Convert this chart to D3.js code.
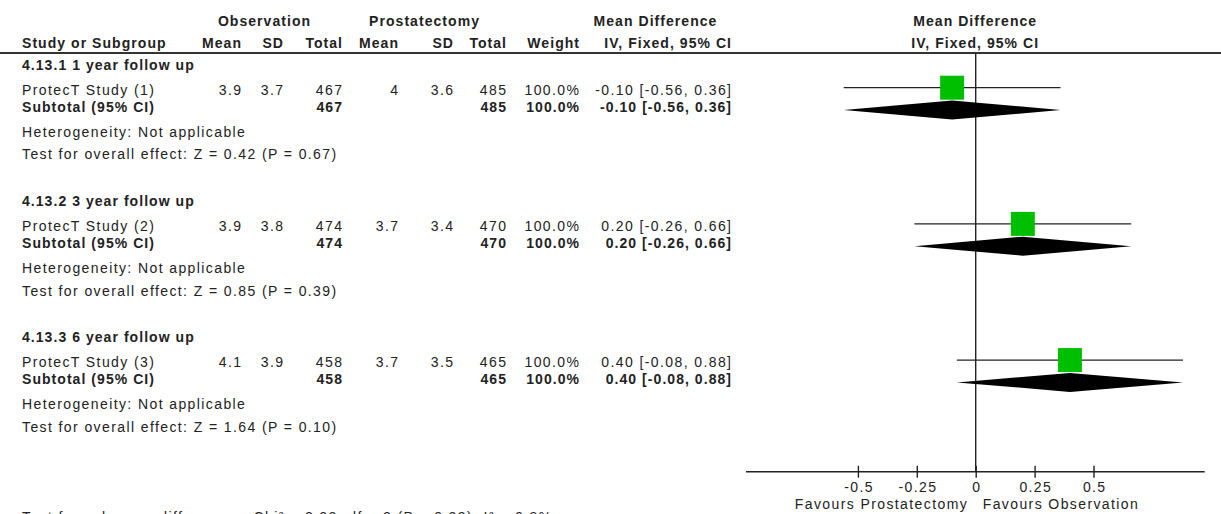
<!DOCTYPE html>
<html>
<head>
<meta charset="utf-8">
<script src="https://cdn.jsdelivr.net/npm/d3@7"></script>
<style>
  html, body { margin: 0; padding: 0; background: #fff; }
  svg { display: block; }
  text { font-family: "Liberation Sans", Arial, sans-serif; font-size: 14px; fill: #222; }
</style>
</head>
<body>
<svg id="chart" width="1221" height="514"></svg>
<script>
// Subgroups and study rows
const groupTitles = ["4.13.1 1 year follow up", "4.13.2 3 year follow up", "4.13.3 6 year follow up"];
const studyNames = ["ProtecT Study (1)", "ProtecT Study (2)", "ProtecT Study (3)"];

// Observation arm
const obsMean = [3.9, 3.9, 4.1];
const obsSD = [3.7, 3.8, 3.9];
const obsTotal = [467, 474, 458];

// Prostatectomy arm
const proMean = [4, 3.7, 3.7];
const proSD = [3.6, 3.4, 3.5];
const proTotal = [485, 470, 465];

// Effect estimates (mean difference, IV fixed, 95% CI)
const weightPct = [100, 100, 100];
const meanDiff = [-0.10, 0.20, 0.40];
const ciLower = [-0.56, -0.26, -0.08];
const ciUpper = [0.36, 0.66, 0.88];

// Overall effect tests
const zValues = [0.42, 0.85, 1.64];
const pValues = [0.67, 0.39, 0.10];

// Axis
const axisTicks = [-0.5, -0.25, 0, 0.25, 0.5];
const axisExtent = [-0.975, 0.972];
const favourLabels = ["Favours Prostatectomy", "Favours Observation"];
const subgroupTest = "Test for subgroup differences: Chi\u00b2 = 2.22, df = 2 (P = 0.33), I\u00b2 = 9.8%";

// ---- layout ----
const LS = 1.4, LSB = 1.05;          // letter spacing (regular / bold)
const ink = "#222";
const firstHeaderY = 70, groupStride = 136.2;
const rowOff = { header: 0, study: 25, subtotal: 42, het: 66.7, test: 89.3 };
const col = { name: 22, oMean: 241, oSD: 283, oTot: 342, pMean: 398, pSD: 453, pTot: 506, weight: 579, ci: 731 };

const svg = d3.select("#chart");
const x = d3.scaleLinear().domain([-1, 1]).range([740.1, 1211.3]);

function label(s, px, py, anchor = "start", bold = false) {
  const ls = bold ? LSB : LS;
  const shift = anchor === "end" ? ls : anchor === "middle" ? ls / 2 : 0;
  return svg.append("text")
    .attr("x", px + shift).attr("y", py)
    .attr("text-anchor", anchor)
    .attr("letter-spacing", ls)
    .attr("font-weight", bold ? "bold" : "normal")
    .text(s);
}

// plain hyphen for negative numbers
const fmt2 = v => d3.format(".2f")(v).replace("\u2212", "-");
const fmtCI = i => `${fmt2(meanDiff[i])} [${fmt2(ciLower[i])}, ${fmt2(ciUpper[i])}]`;
const fmtW = w => d3.format(".1f")(w) + "%";

// ---- column headers ----
label("Observation", 264, 25.5, "middle", true);
label("Prostatectomy", 424, 25.5, "middle", true);
label("Mean Difference", 655, 25.5, "middle", true);
label("Mean Difference", x(0) - 1, 25.5, "middle", true);

label("Study or Subgroup", col.name, 48, "start", true);
label("Mean", col.oMean, 48, "end", true);
label("SD", col.oSD, 48, "end", true);
label("Total", col.oTot, 48, "end", true);
label("Mean", col.pMean, 48, "end", true);
label("SD", col.pSD, 48, "end", true);
label("Total", col.pTot, 48, "end", true);
label("Weight", col.weight, 48, "end", true);
label("IV, Fixed, 95% CI", col.ci, 48, "end", true);
label("IV, Fixed, 95% CI", x(0) - 1, 48, "middle", true);

svg.append("line")
  .attr("x1", 0).attr("x2", 1221).attr("y1", 53).attr("y2", 53)
  .attr("stroke", "#333").attr("stroke-width", 2);

// ---- line of no effect and axis ----
const axisY = 471.7;
svg.append("line")
  .attr("x1", x(0)).attr("x2", x(0)).attr("y1", 53).attr("y2", axisY)
  .attr("stroke", ink).attr("stroke-width", 1.4);

svg.append("line")
  .attr("x1", x(axisExtent[0])).attr("x2", x(axisExtent[1]))
  .attr("y1", axisY).attr("y2", axisY)
  .attr("stroke", ink).attr("stroke-width", 1.4);

const axisG = svg.append("g").attr("transform", `translate(0,${axisY - 6})`)
  .call(d3.axisBottom(x).tickValues(axisTicks).tickSizeInner(12).tickSizeOuter(0)
    .tickFormat(d => String(d)));
axisG.select(".domain").remove();
axisG.selectAll(".tick line").attr("stroke", ink).attr("stroke-width", 1.4);
axisG.selectAll(".tick text")
  .attr("y", 26).attr("dy", 0).attr("dx", LS / 2)
  .attr("letter-spacing", LS)
  .style("font-family", '"Liberation Sans", Arial, sans-serif')
  .style("font-size", "14px").attr("fill", ink);

label(favourLabels[0], x(0) - 9, 509, "end");
label(favourLabels[1], x(0) + 7, 509, "start");

// ---- rows per subgroup ----
groupTitles.forEach((title, i) => {
  const base = firstHeaderY + groupStride * i;
  const yS = base + rowOff.study, yT = base + rowOff.subtotal;

  label(title, col.name, base, "start", true);

  label(studyNames[i], col.name, yS);
  label(String(obsMean[i]), col.oMean, yS, "end");
  label(String(obsSD[i]), col.oSD, yS, "end");
  label(String(obsTotal[i]), col.oTot, yS, "end");
  label(String(proMean[i]), col.pMean, yS, "end");
  label(String(proSD[i]), col.pSD, yS, "end");
  label(String(proTotal[i]), col.pTot, yS, "end");
  label(fmtW(weightPct[i]), col.weight, yS, "end");
  label(fmtCI(i), col.ci, yS, "end");

  label("Subtotal (95% CI)", col.name, yT, "start", true);
  label(String(obsTotal[i]), col.oTot, yT, "end", true);
  label(String(proTotal[i]), col.pTot, yT, "end", true);
  label(fmtW(weightPct[i]), col.weight, yT, "end", true);
  label(fmtCI(i), col.ci, yT, "end", true);

  label("Heterogeneity: Not applicable", col.name, base + rowOff.het);
  label(`Test for overall effect: Z = ${fmt2(zValues[i])} (P = ${fmt2(pValues[i])})`, col.name, base + rowOff.test);

  // study: confidence interval and weighted square
  const ciY = yS - 7.3;
  svg.append("line")
    .attr("x1", x(ciLower[i])).attr("x2", x(ciUpper[i]))
    .attr("y1", ciY).attr("y2", ciY)
    .attr("stroke", ink).attr("stroke-width", 1.3);
  const sq = 24;
  svg.append("rect")
    .attr("x", x(meanDiff[i]) - sq / 2).attr("y", ciY - sq / 2)
    .attr("width", sq).attr("height", sq)
    .attr("fill", "#00bf00");

  // subtotal: pooled diamond
  const dY = yT - 2, h = 9.5;
  svg.append("path")
    .attr("d", d3.line()([
      [x(ciLower[i]), dY], [x(meanDiff[i]), dY - h],
      [x(ciUpper[i]), dY], [x(meanDiff[i]), dY + h]
    ]) + "Z")
    .attr("fill", "#000");
});

// test for subgroup differences (last line)
label(subgroupTest, col.name, firstHeaderY + groupStride * 2 + rowOff.test + 90);
</script>
</body>
</html>
